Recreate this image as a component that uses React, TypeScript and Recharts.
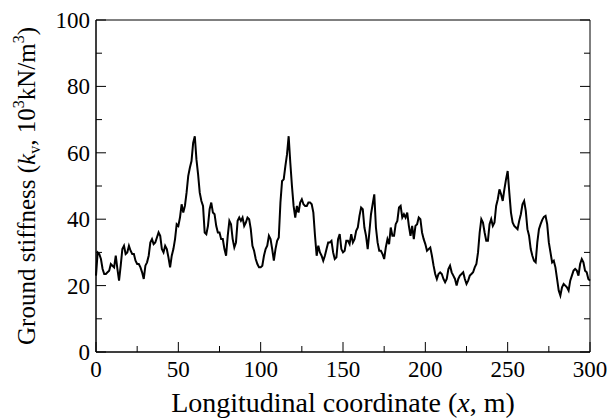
import React from 'react';
import { LineChart, Line, XAxis, YAxis, ReferenceArea } from 'recharts';

// ground stiffness k_v (10^3 kN/m^3), one value per metre
const stiffness0to100 = [
  23, 30, 29.5, 28, 25, 23.5, 23.5, 24, 24.5, 26.5,
  26, 25.5, 29, 25, 21.5, 26, 31, 32, 29.5, 30,
  32, 30.5, 29.5, 29.5, 27.5, 26.5, 26.5, 25.5, 24, 22,
  26, 27, 29, 33, 34, 32.5, 33, 34.5, 36, 35,
  31, 30, 32, 31, 28.5, 25.5, 29, 31, 34, 38.5,
  38, 40.5, 44.5, 42, 44, 48, 53, 55.5, 57.5, 63,
  65, 58, 53.5, 48, 45.5, 44, 36, 35.5, 38, 43,
  45, 42, 41.5, 38, 36, 36, 34, 34, 31, 29,
  35, 39.5, 38.5, 34, 31.5, 33, 39.5, 40.5, 39.5, 40.5,
  38, 39, 40.5, 40, 37, 32, 30.5, 28, 26.5, 25.5,
  25.5,
];
const stiffness101to200 = [
  26, 29, 31, 32, 35, 34, 31, 27.5, 31, 33.5,
  34.5, 45, 51.5, 52, 56, 59.5, 65, 57, 50, 44,
  40.5, 44, 42, 45, 46, 44.5, 44, 44, 45, 45,
  44.5, 42, 35, 29, 32, 30, 29, 27.5, 29, 31,
  33, 33, 33.5, 30, 28, 28.5, 34, 35.5, 31, 30,
  30.5, 33.5, 33.5, 32.5, 35.5, 33, 34, 36.5, 37.5, 41,
  43.5, 43, 37.5, 35, 31, 36, 41.5, 44.5, 47.5, 37.5,
  33, 30.5, 30.5, 29.5, 28, 31.5, 34, 32.5, 37.5, 35,
  35, 38.5, 39.5, 43.5, 44, 40.5, 41.5, 40.5, 42, 38,
  35, 38, 34, 38, 38.5, 40.5, 40, 36, 34, 32.5,
];
const stiffness201to300 = [
  30.5, 31, 31.5, 29, 26, 23.5, 22, 23.5, 24, 23.5,
  22, 21, 22, 25, 26, 24, 23, 22, 20, 22,
  23, 23.5, 24, 22, 20.5, 21.5, 23, 23.5, 24, 25.5,
  26.5, 30, 36, 40, 39, 36, 33.5, 33.5, 38.5, 40,
  38, 39, 44, 46, 49, 47.5, 45.5, 49, 52, 54.5,
  48, 42, 39, 38, 37.5, 37, 39.5, 41.5, 44.5, 45.5,
  42.5, 37, 35, 31, 29, 27.5, 27, 33, 37, 38.5,
  39.8, 40.7, 41, 38.5, 33, 30, 27, 27.5, 25.5, 22,
  18.5, 17, 19.5, 20.5, 20, 19.5, 18.5, 21.5, 23, 24.5,
  25, 24.5, 23, 26.5, 28, 27, 24.5, 24, 22, 21.5,
];

const xTicks = [0, 25, 50, 75, 100, 125, 150, 175, 200, 225, 250, 275, 300];
const yTicks = [0, 10, 20, 30, 40, 50, 60, 70, 80, 90, 100];

const stiffness = [...stiffness0to100, ...stiffness101to200, ...stiffness201to300];
const data = stiffness.map((kv, i) => ({ x: i, kv }));

const W = 611;
const H = 419;
const MARGIN = { top: 20, right: 21, bottom: 0, left: 0 };
const PLOT_RIGHT = W - MARGIN.right;
const FONT = 'Liberation Serif';
const txt = { fontFamily: FONT };

function XTick({ x, y, payload }: any) {
  const major = payload.value % 50 === 0;
  return (
    <g>
      <line x1={x} x2={x} y1={y} y2={y - (major ? 10 : 6)} stroke="#000" strokeWidth={1} />
      {major && (
        <text x={x} y={y + 25} textAnchor="middle" fontSize={23} style={txt} fill="#000">
          {payload.value}
        </text>
      )}
    </g>
  );
}

function YTick({ x, y, payload }: any) {
  const major = payload.value % 20 === 0;
  const len = major ? 10 : 6;
  return (
    <g>
      <line x1={x} x2={x + len} y1={y} y2={y} stroke="#000" strokeWidth={1} />
      <line x1={PLOT_RIGHT} x2={PLOT_RIGHT - len} y1={y} y2={y} stroke="#000" strokeWidth={1} />
      {major && (
        <text x={x - 6} y={y} dy="0.35em" textAnchor="end" fontSize={23} style={txt} fill="#000">
          {payload.value}
        </text>
      )}
    </g>
  );
}

function YTitle({ viewBox }: any) {
  const cx = 35;
  const cy = viewBox.y + viewBox.height / 2;
  return (
    <text
      x={cx}
      y={cy}
      transform={`rotate(-90, ${cx}, ${cy})`}
      textAnchor="middle"
      fontSize={25}
      style={txt}
      fill="#000"
    >
      Ground stiffness (<tspan fontStyle="italic">k</tspan>
      <tspan fontSize={16} dy={5}>v</tspan>
      <tspan dy={-5}>, 10</tspan>
      <tspan fontSize={16} dy={-11}>3</tspan>
      <tspan dy={11}>kN/m</tspan>
      <tspan fontSize={16} dy={-11}>3</tspan>
      <tspan dy={11}>)</tspan>
    </text>
  );
}

function XTitle({ viewBox }: any) {
  const cx = viewBox.x + viewBox.width / 2;
  return (
    <text x={cx} y={412} textAnchor="middle" fontSize={28} style={txt} fill="#000">
      Longitudinal coordinate (<tspan fontStyle="italic">x</tspan>, m)
    </text>
  );
}

export default function App() {
  return (
    <div style={{ position: 'absolute', left: 0, top: 0, width: W, height: H, background: '#fff', fontFamily: FONT }}>
      <LineChart width={W} height={H} data={data} margin={MARGIN}>
        <XAxis
          dataKey="x"
          type="number"
          domain={[0, 300]}
          ticks={xTicks}
          interval={0}
          height={67}
          tickSize={0}
          tickMargin={0}
          tickLine={false}
          axisLine={{ stroke: '#000' }}
          tick={<XTick />}
          label={{ content: <XTitle /> } as any}
        />
        <YAxis
          type="number"
          domain={[0, 100]}
          ticks={yTicks}
          interval={0}
          width={96}
          tickSize={0}
          tickMargin={0}
          tickLine={false}
          axisLine={{ stroke: '#000' }}
          tick={<YTick />}
          label={{ content: <YTitle /> } as any}
        />
        <ReferenceArea x1={0} x2={300} y1={0} y2={100} fill="none" stroke="#000" strokeWidth={1} fillOpacity={0} />
        <Line
          dataKey="kv"
          type="linear"
          stroke="#000"
          strokeWidth={2}
          dot={false}
          isAnimationActive={false}
        />
      </LineChart>
    </div>
  );
}
